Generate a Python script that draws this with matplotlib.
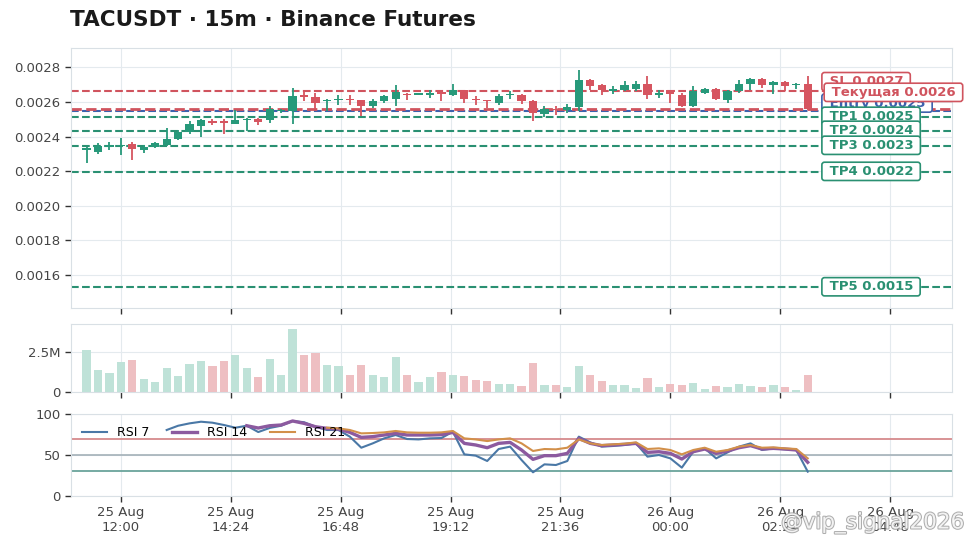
import numpy as np
import pandas as pd
import matplotlib
matplotlib.use('Agg')
import matplotlib.pyplot as plt
import matplotlib.dates as mdates
import matplotlib.patheffects as pe
from matplotlib.ticker import FuncFormatter

# ============================================================
# ДАННЫЕ
# ============================================================
SYMBOL = 'TACUSDT'
TF = '15m'
times = pd.date_range('2025-08-25 11:15', periods=64, freq='15min')

opens = [0.002322, 0.002313, 0.002342, 0.002345, 0.002359, 0.002322, 0.002342, 0.002351,
         0.002386, 0.002426, 0.002458, 0.002490, 0.002487, 0.002472, 0.002493, 0.002499,
         0.002493, 0.002548, 0.002545, 0.002638, 0.002629, 0.002606, 0.002609, 0.002617,
         0.002609, 0.002574, 0.002603, 0.002620, 0.002649, 0.002643, 0.002643, 0.002655,
         0.002641, 0.002670, 0.002617, 0.002612, 0.002597, 0.002641, 0.002641, 0.002606,
         0.002530, 0.002559, 0.002554, 0.002571, 0.002728, 0.002699, 0.002661, 0.002670,
         0.002678, 0.002707, 0.002641, 0.002670, 0.002641, 0.002574, 0.002655, 0.002678,
         0.002612, 0.002661, 0.002704, 0.002736, 0.002699, 0.002716, 0.002696, 0.002704]
highs = [0.002339, 0.002362, 0.002368, 0.002391, 0.002371, 0.002351, 0.002371, 0.002449,
         0.002438, 0.002487, 0.002501, 0.002504, 0.002501, 0.002554, 0.002507, 0.002510,
         0.002574, 0.002559, 0.002681, 0.002661, 0.002655, 0.002620, 0.002641, 0.002641,
         0.002612, 0.002620, 0.002643, 0.002699, 0.002655, 0.002649, 0.002672, 0.002672,
         0.002704, 0.002672, 0.002632, 0.002614, 0.002649, 0.002661, 0.002646, 0.002612,
         0.002574, 0.002574, 0.002591, 0.002785, 0.002736, 0.002707, 0.002693, 0.002719,
         0.002719, 0.002748, 0.002672, 0.002672, 0.002655, 0.002693, 0.002681, 0.002681,
         0.002670, 0.002728, 0.002739, 0.002739, 0.002719, 0.002719, 0.002710, 0.002751]
lows = [0.002246, 0.002299, 0.002322, 0.002293, 0.002264, 0.002304, 0.002336, 0.002345,
        0.002380, 0.002417, 0.002397, 0.002467, 0.002415, 0.002470, 0.002432, 0.002467,
        0.002481, 0.002536, 0.002472, 0.002603, 0.002559, 0.002548, 0.002583, 0.002583,
        0.002516, 0.002565, 0.002597, 0.002574, 0.002609, 0.002641, 0.002623, 0.002603,
        0.002635, 0.002594, 0.002583, 0.002565, 0.002583, 0.002620, 0.002591, 0.002487,
        0.002513, 0.002525, 0.002539, 0.002545, 0.002667, 0.002641, 0.002646, 0.002661,
        0.002661, 0.002620, 0.002626, 0.002594, 0.002571, 0.002571, 0.002649, 0.002609,
        0.002597, 0.002655, 0.002670, 0.002681, 0.002646, 0.002661, 0.002678, 0.002554]
closes = [0.002333, 0.002345, 0.002348, 0.002351, 0.002328, 0.002342, 0.002362, 0.002386,
          0.002426, 0.002470, 0.002496, 0.002481, 0.002481, 0.002496, 0.002499, 0.002484,
          0.002557, 0.002554, 0.002632, 0.002629, 0.002597, 0.002612, 0.002617, 0.002609,
          0.002574, 0.002606, 0.002632, 0.002658, 0.002641, 0.002646, 0.002646, 0.002649,
          0.002672, 0.002617, 0.002612, 0.002603, 0.002632, 0.002646, 0.002603, 0.002536,
          0.002562, 0.002554, 0.002571, 0.002728, 0.002690, 0.002667, 0.002678, 0.002699,
          0.002707, 0.002641, 0.002652, 0.002649, 0.002574, 0.002661, 0.002678, 0.002617,
          0.002661, 0.002707, 0.002736, 0.002699, 0.002716, 0.002693, 0.002701, 0.002557]
volumes = [2.58e6, 1.35e6, 1.17e6, 1.85e6, 1.98e6, 0.79e6, 0.60e6, 1.48e6, 0.98e6, 1.73e6,
           1.92e6, 1.60e6, 1.92e6, 2.29e6, 1.48e6, 0.92e6, 2.04e6, 1.04e6, 3.92e6, 2.29e6,
           2.38e6, 1.67e6, 1.60e6, 1.04e6, 1.67e6, 1.04e6, 0.92e6, 2.17e6, 1.04e6, 0.60e6,
           0.92e6, 1.23e6, 1.04e6, 0.98e6, 0.73e6, 0.67e6, 0.48e6, 0.48e6, 0.35e6, 1.79e6,
           0.42e6, 0.42e6, 0.29e6, 1.60e6, 1.04e6, 0.67e6, 0.42e6, 0.42e6, 0.23e6, 0.85e6,
           0.29e6, 0.48e6, 0.42e6, 0.54e6, 0.17e6, 0.35e6, 0.29e6, 0.48e6, 0.35e6, 0.29e6,
           0.42e6, 0.29e6, 0.10e6, 1.04e6]

nan = np.nan
rsi7 = [nan] * 7 + [80.5, 85.7, 88.6, 90.6, 89.4, 86.6, 83.3, 85.7, 78.0, 83.0, 85.7, 91.5,
                    90.0, 84.5, 80.5, 80.5, 72.4, 58.9, 64.2, 70.3, 74.4, 69.5, 69.0, 70.3,
                    70.7, 78.4, 50.8, 49.2, 42.7, 57.3, 60.2, 43.9, 28.9, 38.6, 37.8, 42.7,
                    72.4, 65.4, 60.2, 61.0, 62.2, 64.2, 48.0, 50.0, 45.9, 34.6, 54.0, 58.1,
                    45.9, 53.2, 60.2, 64.2, 56.1, 58.1, 56.9, 56.1, 29.7]
rsi14 = [nan] * 14 + [85.7, 82.9, 85.7, 86.6, 91.5, 88.6, 84.5, 82.5, 81.7, 77.6, 71.5, 72.4,
                      74.4, 76.4, 74.4, 74.4, 74.4, 74.8, 77.6, 64.2, 62.2, 58.9, 64.2, 65.4,
                      56.1, 44.7, 49.2, 49.2, 52.0, 70.3, 64.2, 61.4, 62.2, 63.0, 64.2, 53.2,
                      54.0, 52.0, 45.1, 54.0, 57.3, 52.0, 54.9, 58.9, 61.4, 57.3, 58.1, 57.3,
                      56.1, 41.1]
rsi21 = [nan] * 21 + [83.3, 82.5, 80.5, 76.4, 76.8, 77.6, 79.3, 77.6, 77.2, 77.2, 77.6, 79.3,
                      70.3, 69.0, 67.0, 69.0, 70.3, 64.2, 54.9, 57.3, 56.9, 58.9, 69.0, 64.2,
                      62.2, 63.0, 63.8, 65.4, 57.3, 58.1, 56.1, 50.8, 56.1, 58.9, 54.0, 56.1,
                      60.2, 62.2, 58.9, 59.3, 58.1, 57.3, 45.9]

# уровни сделки
sl = 0.002664
entry = 0.002548
current = closes[-1]
tp_names = ['TP1', 'TP2', 'TP3', 'TP4', 'TP5']
tp_levels = [0.002513, 0.002432, 0.002345, 0.002194, 0.001525]

# ============================================================
# ЦВЕТА / СТИЛЬ
# ============================================================
C_UP = '#27997a'
C_DN = '#d65560'
C_SL = '#d0545e'
C_TP = '#2a9072'
C_ENTRY = '#3d62ad'
C_GRID = '#e4eaee'
C_SPINE = '#d9e0e5'
C_TEXT = '#454545'

plt.rcParams.update({'font.family': 'DejaVu Sans', 'font.size': 9.5})

x = mdates.date2num(times)
step = 15 / 1440
w = step * 0.72
o = np.array(opens); h = np.array(highs); l = np.array(lows); c = np.array(closes)
up = c >= o
cols = np.where(up, C_UP, C_DN)

fig = plt.figure(figsize=(9.71, 5.48), dpi=100)
ax1 = fig.add_axes([0.0731, 0.438, 0.9073, 0.4744])
ax2 = fig.add_axes([0.0731, 0.2847, 0.9073, 0.1241], sharex=ax1)
ax3 = fig.add_axes([0.0731, 0.0949, 0.9073, 0.1496], sharex=ax1)

for ax in (ax1, ax2, ax3):
    ax.set_facecolor('white')
    ax.grid(True, color=C_GRID, lw=0.8, zorder=0)
    ax.set_axisbelow(True)
    for sp in ax.spines.values():
        sp.set_color(C_SPINE)
    ax.tick_params(colors=C_TEXT, labelsize=9.5, length=4, width=1, direction='out')
    ax.tick_params(axis='both', color='#333333')

# --- свечи ---
ax1.vlines(x, l, h, color=cols, lw=1.3, zorder=3)
body_bot = np.minimum(o, c)
body_h = np.maximum(np.abs(c - o), 0.000008)
ax1.bar(x, body_h, w, bottom=body_bot, color=cols, zorder=4)

# --- уровни ---
ax1.axhline(sl, color=C_SL, ls='--', lw=1.5, zorder=2)
ax1.axhline(entry, color=C_ENTRY, ls='--', lw=1.5, zorder=2)
ax1.axhline(current, color=C_SL, ls='--', lw=2.0, zorder=2)
for v in tp_levels:
    ax1.axhline(v, color=C_TP, ls='--', lw=1.5, zorder=2)

lab_x = x[-1] + 22 / 1440
def level_label(y, text, color, z, dx=0.0):
    ax1.text(lab_x + dx, y, f' {text} ', color=color, fontsize=9.5, fontweight='bold',
             ha='left', va='center', zorder=z, clip_on=False,
             bbox=dict(boxstyle='round,pad=0.2', fc='white', ec=color, lw=1.2))

level_label(0.002718, f'SL {sl:.4f}', C_SL, 10)
level_label(0.002594, f'Entry {entry:.4f}', C_ENTRY, 11)
for name, v in zip(tp_names, tp_levels):
    level_label(v + 0.000004, f'{name} {v:.4f}', C_TP, 12)
level_label(0.002656, f'Текущая {current:.4f}', C_SL, 13, dx=3 / 1440)

ax1.set_ylim(0.001406, 0.002913)
ax1.set_yticks(np.arange(0.0016, 0.00281, 0.0002))
ax1.yaxis.set_major_formatter(FuncFormatter(lambda v, p: f'{v:.4f}'))

# --- объём ---
vcols = np.where(up, '#bfe2d8', '#eebfc2')
ax2.bar(x, volumes, w, color=vcols, zorder=3)
ax2.set_ylim(0, 4.2e6)
ax2.set_yticks([0, 2.5e6])
ax2.yaxis.set_major_formatter(FuncFormatter(lambda v, p: '0' if v == 0 else f'{v/1e6:.1f}M'))

# --- RSI ---
ax3.axhline(70, color='#d68a8c', lw=1.3, zorder=2)
ax3.axhline(50, color='#a4b1b8', lw=1.2, zorder=2)
ax3.axhline(30, color='#6aa49b', lw=1.3, zorder=2)
ax3.plot(x, rsi7, color='#4a78a6', lw=1.5, label='RSI 7', zorder=3)
ax3.plot(x, rsi14, color='#8c5a9f', lw=2.4, label='RSI 14', zorder=3)
ax3.plot(x, rsi21, color='#d2904a', lw=1.5, label='RSI 21', zorder=3)
ax3.set_ylim(0, 100)
ax3.set_yticks([0, 50, 100])
ax3.legend(loc='upper left', ncol=3, frameon=False, fontsize=9,
           bbox_to_anchor=(0.0, 0.99), columnspacing=1.8)

# --- ось X ---
ticks = pd.date_range('2025-08-25 12:00', periods=8, freq='144min')
ax3.set_xticks(mdates.date2num(ticks))
ax3.xaxis.set_major_formatter(mdates.DateFormatter('%d %b\n%H:%M'))
ax1.set_xlim(x[0] - 20.4 / 1440, x[-1] + 189 / 1440)
ax1.tick_params(labelbottom=False)
ax2.tick_params(labelbottom=False)

fig.text(70 / 971, 1 - 20 / 548, f'{SYMBOL} · {TF} · Binance Futures',
         fontsize=15.5, fontweight='bold', color='#1a1a1a', ha='left', va='center')

fig.text(964 / 971, 1 - 523 / 548, '@vip_signal2026', fontsize=15.5, color='white',
         ha='right', va='center', alpha=0.85,
         path_effects=[pe.withStroke(linewidth=1.5, foreground='#a0a0a0')])

plt.savefig('out.png', dpi=100)
